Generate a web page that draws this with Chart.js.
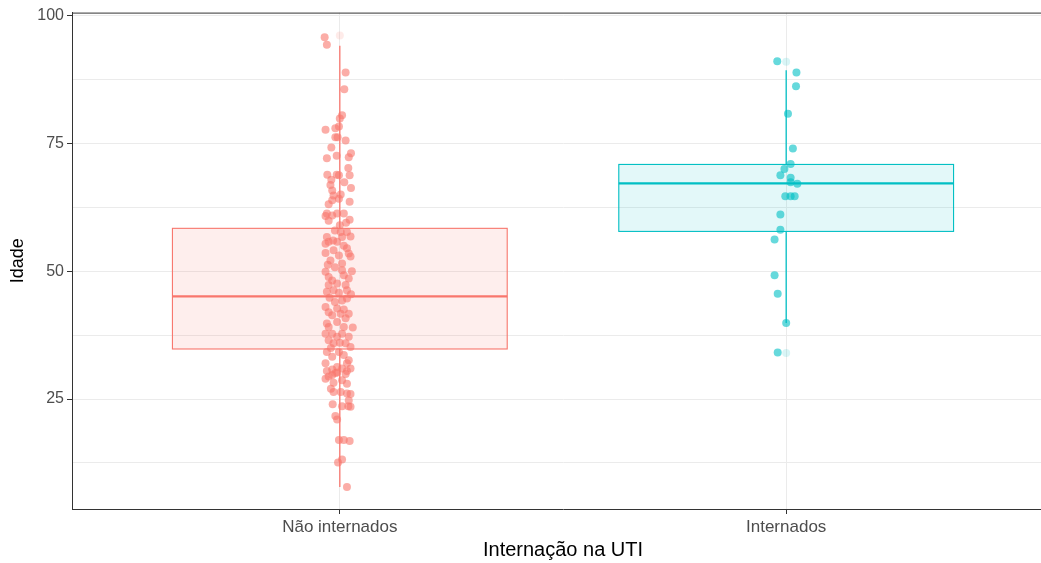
<!DOCTYPE html>
<html>
<head>
<meta charset="utf-8">
<script src="https://cdn.jsdelivr.net/npm/chart.js@4"></script>
<style>
  html, body { margin: 0; padding: 0; background: #fff; overflow: hidden; }
  canvas { display: block; }
</style>
</head>
<body>
<canvas id="chart" width="1058" height="563"></canvas>
<script>
'use strict';

// categories and boxplot summaries
let categories = ['Não internados', 'Internados'];
let q1 = [34.8, 57.8];
let medians = [45.1, 67.2];
let q3 = [58.4, 70.9];
let whiskerLow = [7.8, 39.9];
let whiskerHigh = [94.1, 89.3];
let outliersRed = [96.1];
let outliersTeal = [91.0, 34.0];

let yTicks = [12.5, 25, 37.5, 50, 62.5, 75, 87.5, 100];

// jittered points: x offset from the category centre, and age
let redJitter = [
  -0.034, -0.029, 0.013, 0.010, 0.005, 0.000, -0.032, -0.010, -0.002, -0.010,
  -0.005, 0.013, -0.019, -0.029, -0.007, 0.025, 0.020, 0.019, 0.022, -0.028,
  -0.019, -0.007, -0.002, 0.010, -0.021, 0.025, -0.017, -0.014, 0.002, -0.002,
  -0.025, 0.022, -0.017, -0.029, -0.017, -0.025, -0.006, 0.009, 0.022, -0.032,
  0.002, 0.016, 0.024, 0.005, -0.029, -0.025, -0.015, -0.006, 0.009, -0.032,
  -0.032, -0.014, -0.021, -0.002, 0.016, 0.020, 0.024, 0.005, -0.032, -0.025,
  -0.017, 0.005, 0.009, 0.020, -0.006, 0.013, 0.016, -0.025, -0.029, -0.014,
  0.016, 0.005, -0.032, -0.025, -0.006, -0.017, 0.002, 0.020, 0.013, -0.029,
  -0.006, -0.025, 0.009, -0.032, -0.017, -0.006, 0.005, 0.020, -0.025, 0.013,
  -0.014, 0.024, -0.029, -0.002, 0.009, -0.017, 0.020, -0.032, 0.016, -0.006,
  -0.029, -0.017, -0.006, 0.005, 0.016, 0.024, -0.032, -0.025, -0.017, -0.010,
  0.013, -0.014, 0.005, 0.016, -0.014, 0.002, 0.016, 0.024, 0.020, -0.016,
  0.005, 0.019, 0.024, -0.010, -0.006, -0.002, 0.009, 0.022, 0.005, -0.004,
  0.016, -0.011, 0.025, -0.023, -0.002, -0.011, -0.027, 0.027, 0.000, 0.014,
  -0.011, -0.020, 0.000, 0.029, 0.009, -0.020
];
let redAge = [
  95.8, 94.3, 88.9, 85.6, 80.5, 79.9, 77.7, 78.0, 78.3, 76.2,
  76.2, 75.6, 74.2, 72.1, 72.6, 73.1, 72.3, 70.2, 68.8, 68.9,
  67.9, 68.9, 68.8, 67.4, 66.9, 66.3, 65.8, 64.8, 65.0, 64.2,
  63.1, 63.6, 63.9, 61.3, 60.9, 59.9, 61.3, 61.3, 60.1, 60.8,
  57.7, 57.7, 56.8, 56.7, 56.7, 55.8, 56.0, 55.8, 55.0, 55.4,
  53.6, 54.1, 52.1, 53.1, 54.5, 53.5, 52.9, 51.5, 49.9, 48.9,
  48.2, 50.2, 49.2, 48.6, 47.6, 47.3, 46.3, 47.3, 46.0, 46.3,
  44.7, 44.3, 43.0, 42.0, 42.7, 41.4, 41.7, 41.7, 40.8, 39.8,
  40.1, 39.1, 39.1, 37.8, 37.8, 37.2, 37.8, 37.2, 36.5, 35.9,
  35.9, 35.2, 34.2, 34.2, 33.6, 33.3, 32.6, 32.0, 32.0, 31.3,
  30.5, 30.8, 30.2, 31.0, 30.5, 31.0, 29.0, 29.4, 29.7, 30.1,
  29.9, 28.2, 28.7, 28.0, 26.4, 26.4, 26.1, 26.0, 24.7, 24.0,
  23.6, 23.6, 23.5, 21.7, 21.0, 17.0, 17.0, 16.8, 13.2, 12.6,
  7.8, 44.0, 45.5, 44.8, 45.8, 50.8, 51.3, 50.0, 59.0, 59.5,
  58.0, 35.0, 36.0, 39.0, 42.5, 27.0
];

let tealJitter = [
  -0.020, 0.023, 0.022, 0.004, 0.015, 0.010, -0.004, -0.013, 0.010, 0.010,
  0.025, -0.002, 0.010, 0.019, -0.013, -0.013, -0.026, -0.026, -0.019, 0.000,
  -0.019
];
let tealAge = [
  91.1, 88.9, 86.2, 80.8, 74.0, 71.0, 70.0, 68.8, 68.3, 67.4,
  67.1, 64.7, 64.7, 64.7, 61.1, 58.1, 56.2, 49.2, 45.6, 39.9,
  34.1
];

let lineColors = ['#F8766D', '#00BFC4'];
let fillColors = ['rgba(248,118,109,0.12)', 'rgba(0,191,196,0.11)'];

function toPoints(pos, jitter, ages) {
  let pts = [];
  for (let i = 0; i < ages.length; i++) {
    pts.push({ x: pos + jitter[i], y: ages[i] });
  }
  return pts;
}

function centrePoints(pos, values) {
  return values.map(v => ({ x: pos, y: v }));
}

// boxes, medians and whiskers drawn through the chart scales
const boxPlugin = {
  id: 'boxes',
  beforeDatasetsDraw(chart) {
    const ctx = chart.ctx;
    const xs = chart.scales.x;
    const ys = chart.scales.y;
    for (let i = 0; i < categories.length; i++) {
      let pos = i + 1;
      let left = xs.getPixelForValue(pos - 0.375);
      let right = xs.getPixelForValue(pos + 0.375);
      let mid = xs.getPixelForValue(pos);
      let top = ys.getPixelForValue(q3[i]);
      let bottom = ys.getPixelForValue(q1[i]);
      ctx.save();
      ctx.strokeStyle = lineColors[i];
      // whiskers
      ctx.lineWidth = 1.3;
      ctx.beginPath();
      ctx.moveTo(mid, top);
      ctx.lineTo(mid, ys.getPixelForValue(whiskerHigh[i]));
      ctx.moveTo(mid, bottom);
      ctx.lineTo(mid, ys.getPixelForValue(whiskerLow[i]));
      ctx.stroke();
      // box
      ctx.fillStyle = fillColors[i];
      ctx.fillRect(left, top, right - left, bottom - top);
      ctx.lineWidth = 1.1;
      ctx.strokeRect(left, top, right - left, bottom - top);
      // median
      ctx.lineWidth = 2.2;
      let my = ys.getPixelForValue(medians[i]);
      ctx.beginPath();
      ctx.moveTo(left, my);
      ctx.lineTo(right, my);
      ctx.stroke();
      ctx.restore();
    }
  }
};

const topBorder = {
  id: 'topBorder',
  afterDraw(chart) {
    const ctx = chart.ctx;
    const a = chart.chartArea;
    ctx.save();
    ctx.strokeStyle = '#333333';
    ctx.lineWidth = 1;
    ctx.beginPath();
    ctx.moveTo(a.left, a.top + 0.5);
    ctx.lineTo(a.right, a.top + 0.5);
    ctx.stroke();
    ctx.restore();
  }
};

function renderChart() {
  let canvasElem = document.getElementById('chart');
  let dataObject = {
    datasets: [
      {
        label: 'Não internados',
        data: toPoints(1, redJitter, redAge),
        backgroundColor: 'rgba(248,118,109,0.6)',
        borderWidth: 0,
        pointRadius: 4
      },
      {
        label: 'Internados',
        data: toPoints(2, tealJitter, tealAge),
        backgroundColor: 'rgba(0,191,196,0.6)',
        borderWidth: 0,
        pointRadius: 4
      },
      {
        label: 'outliers red',
        data: centrePoints(1, outliersRed),
        backgroundColor: 'rgba(248,118,109,0.15)',
        borderWidth: 0,
        pointRadius: 4
      },
      {
        label: 'outliers teal',
        data: centrePoints(2, outliersTeal),
        backgroundColor: 'rgba(0,191,196,0.15)',
        borderWidth: 0,
        pointRadius: 4
      }
    ]
  };

  let config = {
    type: 'scatter',
    data: dataObject,
    plugins: [boxPlugin, topBorder],
    options: {
      responsive: false,
      animation: false,
      layout: { padding: { top: 12, right: 1, left: 0, bottom: 0 } },
      plugins: {
        legend: { display: false },
        tooltip: { enabled: false }
      },
      scales: {
        x: {
          type: 'linear',
          min: 0.4,
          max: 2.6,
          afterBuildTicks: (axis) => {
            axis.ticks = [{ value: 1 }, { value: 2 }];
          },
          afterFit: (axis) => { axis.height = 54; },
          ticks: {
            color: '#4D4D4D',
            font: { family: 'Liberation Sans, Arial, sans-serif', size: 17 },
            padding: 3,
            maxRotation: 0,
            callback: (v) => categories[Math.round(v) - 1]
          },
          grid: {
            color: '#EBEBEB',
            lineWidth: 1,
            tickLength: 5,
            tickColor: '#333333'
          },
          border: { display: true, color: '#333333', width: 1 },
          title: {
            display: true,
            text: 'Internação na UTI',
            color: '#000000',
            font: { family: 'Liberation Sans, Arial, sans-serif', size: 20 },
            padding: { top: 0, bottom: 1 }
          }
        },
        y: {
          min: 3.5,
          max: 100.6,
          afterBuildTicks: (axis) => {
            axis.ticks = yTicks.map(v => ({ value: v }));
          },
          afterFit: (axis) => { axis.width = 72; },
          ticks: {
            color: '#4D4D4D',
            font: { family: 'Liberation Sans, Arial, sans-serif', size: 16 },
            padding: 3,
            callback: (v) => (v % 25 === 0 ? String(v) : '')
          },
          grid: {
            color: '#EBEBEB',
            lineWidth: 1,
            tickLength: 5,
            tickColor: (ctx) => (ctx.tick && ctx.tick.value % 25 === 0 ? '#333333' : 'rgba(0,0,0,0)')
          },
          border: { display: true, color: '#333333', width: 1 },
          title: {
            display: true,
            text: 'Idade',
            color: '#000000',
            font: { family: 'Liberation Sans, Arial, sans-serif', size: 18 },
            padding: { top: 7, bottom: 0 }
          }
        }
      }
    }
  };
  new Chart(canvasElem, config);
}

renderChart();
</script>
</body>
</html>
